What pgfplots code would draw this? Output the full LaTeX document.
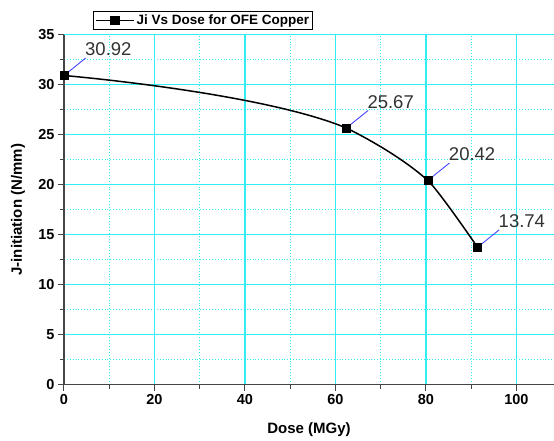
\documentclass[border=0pt]{standalone}
\usepackage{pgfplots}
\pgfplotsset{compat=1.18}
\usepackage{pgfplotstable}
\usepackage{fontspec}
\setmainfont{Liberation Sans}
\definecolor{gridcyan}{RGB}{50,238,242}
\definecolor{leadblue}{RGB}{70,70,255}
\definecolor{spine}{RGB}{70,70,70}
% measured points: Dose (MGy), J-initiation (N/mm)
\pgfplotstableread{
x y lab u v
0 30.92 30.92 4.8 1.75
62.4 25.67 25.67 4.8 1.75
80.4 20.42 20.42 4.8 1.75
91.4 13.74 13.74 4.8 1.75
}\jidata
% subsets of the same points, used to shape the spline piece by piece
\pgfplotstableread{
x y
0 30.92
62.4 25.67
91.4 13.74
}\jiA
\pgfplotstableread{
x y
62.4 25.67
80.4 20.42
91.4 13.74
}\jiB
\begin{document}
\begin{tikzpicture}
\begin{axis}[
  at={(0pt,0pt)}, anchor=south west,
  scale only axis, width=490pt, height=350pt,
  xmin=0, xmax=108.3, ymin=0, ymax=35,
  xtick={0,20,...,100}, ytick={0,5,...,35},
  minor x tick num=1, minor y tick num=1,
  grid=both,
  major grid style={draw=gridcyan, line width=1.1pt},
  minor grid style={draw=gridcyan, line width=0.9pt, dotted},
  axis x line*=bottom, axis y line*=left,
  axis line style={-, draw=spine, line width=1.3pt},
  tick align=outside,
  major tick length=6pt, minor tick length=4pt,
  tick style={draw=spine, line width=1pt},
  ticklabel style={font=\bfseries\fontsize{14.5}{16}\selectfont},
  /pgf/number format/assume math mode=true,
  xlabel={Dose (MGy)}, ylabel={J-initiation (N/mm)},
  label style={font=\bfseries\fontsize{15}{17}\selectfont},
  xlabel style={at={(axis description cs:0.5,-0.129)}, anchor=center},
  ylabel style={at={(axis description cs:-0.094,0.5)}, anchor=center},
  legend style={at={(axis description cs:0.059,1.068)}, anchor=north west,
    draw=black, line width=1.2pt, inner sep=1.5pt,
    font=\bfseries\fontsize{13.5}{15}\selectfont},
  legend image code/.code={\draw[mark repeat=2,mark phase=2] plot coordinates {(0pt,0pt)(19pt,0pt)(38pt,0pt)};},
  clip=false,
]
\addplot[leadblue, line width=0.9pt, forget plot,
  quiver={u=\thisrow{u}, v=\thisrow{v}}] table[x=x, y=y] {\jidata};
\begin{scope}
\clip (axis cs:-3,0) rectangle (axis cs:62.4,40);
\addplot[black, line width=1.5pt, smooth, tension=0.75, no marks, forget plot]
  table[x=x, y=y] {\jiA};
\end{scope}
\begin{scope}
\clip (axis cs:62.4,0) rectangle (axis cs:80.4,40);
\addplot[black, line width=1.5pt, smooth, tension=0.864, no marks, forget plot]
  table[x=x, y=y] {\jiB};
\end{scope}
\begin{scope}
\clip (axis cs:80.4,0) rectangle (axis cs:100,40);
\addplot[black, line width=1.5pt, smooth, tension=0.3, no marks, forget plot]
  table[x=x, y=y] {\jiB};
\end{scope}
\addplot[black, only marks, mark=square*, mark size=4pt, forget plot,
  nodes near coords, point meta=explicit symbolic,
  every node near coord/.append style={anchor=west, xshift=21pt, yshift=26pt,
    font=\fontsize{18.5}{20}\selectfont, text=black!80, inner sep=0pt}]
  table[x=x, y=y, meta=lab] {\jidata};
\addlegendimage{black, line width=1.5pt, mark=square*, mark size=4pt}
\addlegendentry{Ji Vs Dose for OFE Copper}
\end{axis}
\pgfresetboundingbox
\path (-64pt,-56.3pt) rectangle (490pt,384.7pt);
\end{tikzpicture}
\end{document}
